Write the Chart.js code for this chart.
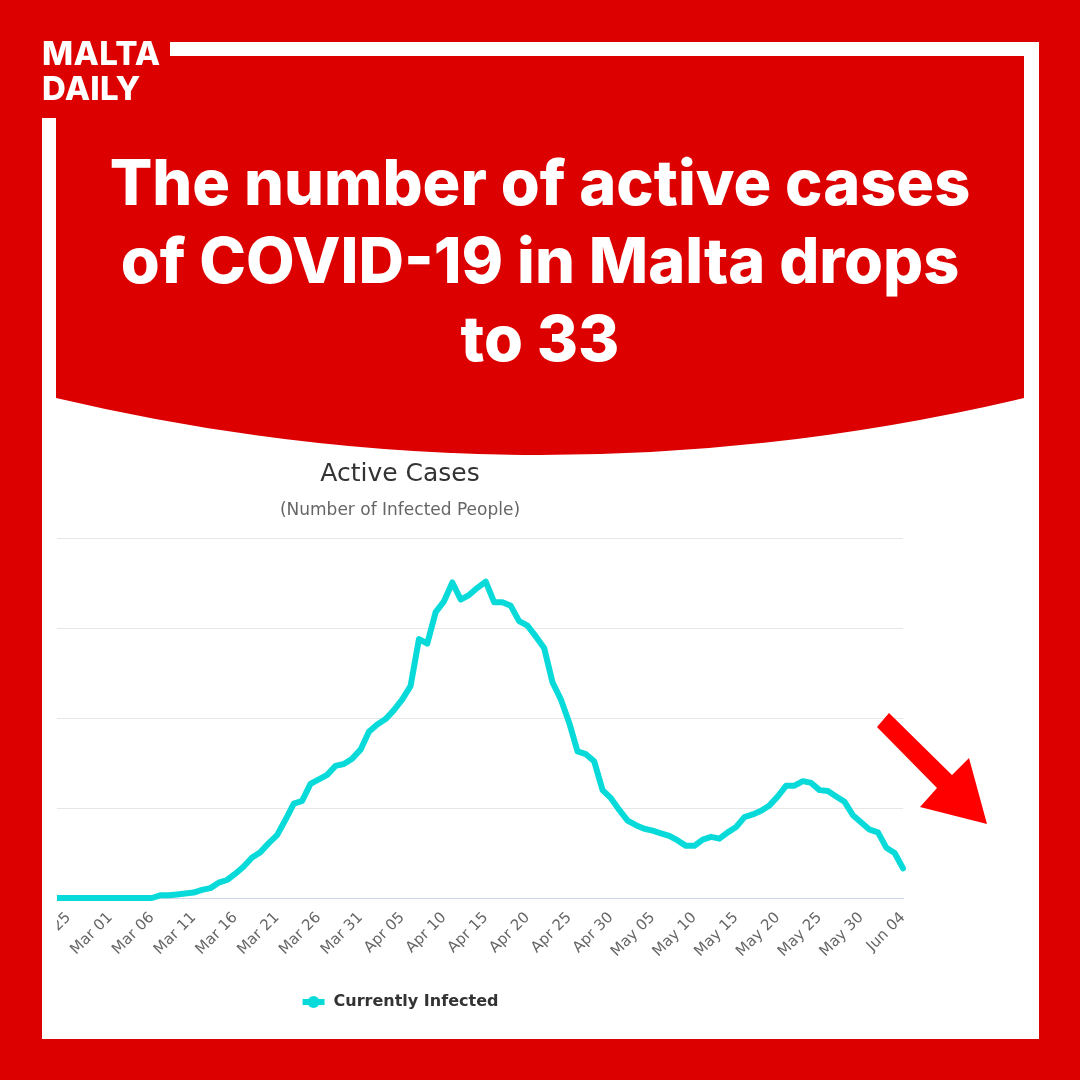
<!DOCTYPE html>
<html lang="en">
<head>
<meta charset="UTF-8">
<title>Active Cases - Malta</title>
<script src="https://cdn.jsdelivr.net/npm/chart.js"></script>
<style>
  body { margin: 0; width: 1080px; height: 1080px; background: #dd0000; position: relative; overflow: hidden; font-family: "Inter", "Lato", sans-serif; }
  .frame { position: absolute; left: 42px; top: 42px; width: 997px; height: 997px; background: #fff; }
  .corner { position: absolute; left: 0; top: 0; width: 170px; height: 118px; background: #dd0000; }
  .logo { position: absolute; left: 42px; top: 36px; color: #fff; font-weight: 800; font-size: 33px; line-height: 35px; letter-spacing: 0.3px; }
  .chartClip { position: absolute; left: 57px; top: 440px; width: 967px; height: 590px; overflow: hidden; }
  .chartBox { position: absolute; left: -160px; top: 0; width: 1012px; height: 590px; }
  #deco { position: absolute; left: 0; top: 0; }
  .headline { position: absolute; left: 56px; width: 968px; top: 143px; text-align: center; color: #fff; font-size: 63px; font-weight: 800; line-height: 78px; }
</style>
</head>
<body>
  <div class="frame"></div>
  <div class="corner"></div>
  <div class="chartClip">
    <div class="chartBox"><canvas id="activeChart" width="1012" height="590"></canvas></div>
  </div>
  <svg id="deco" width="1080" height="1080">
    <!-- bandeau rouge avec le bas arrondi -->
    <path d="M56 56 H1024 V398 Q540 512 56 398 Z" fill="#dd0000"/>
    <!-- fleche -->
    <polygon points="877,727 889,713 952,775 969,758 987,824 920,807 937,788" fill="#ff0000"/>
  </svg>
  <div class="logo">MALTA<br>DAILY</div>
  <div class="headline">The number of active cases<br>of COVID-19 in Malta drops<br>to 33</div>

<script>
// Feb 15 -> Jun 04 (2020)
const dayLabels = [
  'Feb 15','Feb 16','Feb 17','Feb 18','Feb 19','Feb 20','Feb 21','Feb 22','Feb 23','Feb 24','Feb 25','Feb 26','Feb 27','Feb 28','Feb 29',
  'Mar 01','Mar 02','Mar 03','Mar 04','Mar 05','Mar 06','Mar 07','Mar 08','Mar 09','Mar 10','Mar 11','Mar 12','Mar 13','Mar 14','Mar 15','Mar 16',
  'Mar 17','Mar 18','Mar 19','Mar 20','Mar 21','Mar 22','Mar 23','Mar 24','Mar 25','Mar 26','Mar 27','Mar 28','Mar 29','Mar 30','Mar 31',
  'Apr 01','Apr 02','Apr 03','Apr 04','Apr 05','Apr 06','Apr 07','Apr 08','Apr 09','Apr 10','Apr 11','Apr 12','Apr 13','Apr 14','Apr 15',
  'Apr 16','Apr 17','Apr 18','Apr 19','Apr 20','Apr 21','Apr 22','Apr 23','Apr 24','Apr 25','Apr 26','Apr 27','Apr 28','Apr 29','Apr 30',
  'May 01','May 02','May 03','May 04','May 05','May 06','May 07','May 08','May 09','May 10','May 11','May 12','May 13','May 14','May 15','May 16',
  'May 17','May 18','May 19','May 20','May 21','May 22','May 23','May 24','May 25','May 26','May 27','May 28','May 29','May 30','May 31',
  'Jun 01','Jun 02','Jun 03','Jun 04'
];

const tickLabels = [
  'Feb 15','Feb 20','Feb 25','Mar 01','Mar 06','Mar 11','Mar 16','Mar 21','Mar 26','Mar 31',
  'Apr 05','Apr 10','Apr 15','Apr 20','Apr 25','Apr 30','May 05','May 10','May 15','May 20',
  'May 25','May 30','Jun 04'
];

// valeurs (nombre de personnes infectées)
const activeCases = [
  0, 0, 0, 0, 0, 0, 0, 0, 0, 0, 0, 0, 0, 0, 0,
  0, 0, 0, 0, 0, 0, 3, 3, 4, 5, 6, 9, 11, 17, 20, 27,
  35, 45, 51, 61, 70, 87, 105, 108, 127, 132, 137, 147, 149, 155, 165,
  185, 193, 199, 209, 221, 236, 288, 283, 318, 330, 351, 332, 337, 345, 352,
  329, 329, 325, 308, 303, 291, 278, 240, 221, 195, 163, 160, 152, 120, 111,
  98, 86, 81, 77, 75, 72, 69, 64, 58, 58, 65, 68, 66, 73, 79, 90,
  93, 97, 103, 113, 125, 125, 130, 128, 120, 119, 113, 107, 92, 84, 76,
  73, 56, 50, 33
];

const yTicks = [0, 100, 200, 300, 400];

const lineColor = '#08dada';
const chartFont = 'DejaVu Sans';

// petite icone de légende : trait + rond
const legendIcon = document.createElement('canvas');
legendIcon.width = 24;
legendIcon.height = 14;
const ic = legendIcon.getContext('2d');
ic.strokeStyle = lineColor;
ic.fillStyle = lineColor;
ic.lineWidth = 6;
ic.lineCap = 'butt';
ic.beginPath(); ic.moveTo(1, 7); ic.lineTo(23, 7); ic.stroke();
ic.beginPath(); ic.arc(12, 7, 6, 0, Math.PI * 2); ic.fill();

const ctx = document.getElementById('activeChart').getContext('2d');

new Chart(ctx, {
  type: 'line',
  data: {
    labels: dayLabels,
    datasets: [{
      label: 'Currently Infected',
      data: activeCases,
      borderColor: lineColor,
      backgroundColor: lineColor,
      borderWidth: 6,
      borderJoinStyle: 'round',
      borderCapStyle: 'round',
      pointRadius: 0,
      tension: 0,
      fill: false,
      clip: 6
    }]
  },
  options: {
    responsive: false,
    animation: false,
    layout: { padding: { left: 0, right: 6, top: 0, bottom: 10 } },
    scales: {
      x: {
        grid: { display: false, drawTicks: false },
        border: { display: true, color: '#ccd6eb', width: 1 },
        ticks: {
          autoSkip: false,
          maxRotation: 45,
          minRotation: 45,
          padding: 11,
          color: '#666',
          font: { family: chartFont, size: 15 },
          callback: function(value, index) {
            const lab = dayLabels[index];
            return tickLabels.includes(lab) ? lab : null;
          }
        },
        afterFit: function(scale) {
          scale.height = 86;
          scale.paddingLeft = 0;
          scale.paddingRight = 0;
        }
      },
      y: {
        min: yTicks[0],
        max: yTicks[yTicks.length - 1],
        ticks: { display: false, stepSize: 100 },
        afterBuildTicks: function(scale) { scale.ticks = yTicks.map(v => ({ value: v })); },
        afterFit: function(scale) { scale.width = 88; },
        grid: { color: '#e6e6e6', lineWidth: 1, drawTicks: false },
        border: { display: false }
      }
    },
    plugins: {
      title: {
        display: true,
        text: 'Active Cases',
        color: '#333',
        font: { family: chartFont, size: 25, weight: 'normal' },
        padding: { top: 19, bottom: 6 }
      },
      subtitle: {
        display: true,
        text: '(Number of Infected People)',
        color: '#666',
        font: { family: chartFont, size: 17, weight: 'normal' },
        padding: { top: 5, bottom: 18 }
      },
      legend: {
        position: 'bottom',
        labels: {
          usePointStyle: true,
          pointStyle: legendIcon,
          pointStyleWidth: 24,
          color: '#333',
          font: { family: chartFont, size: 16, weight: 'bold' },
          padding: 10
        }
      },
      tooltip: { enabled: false }
    }
  }
});
</script>
</body>
</html>
